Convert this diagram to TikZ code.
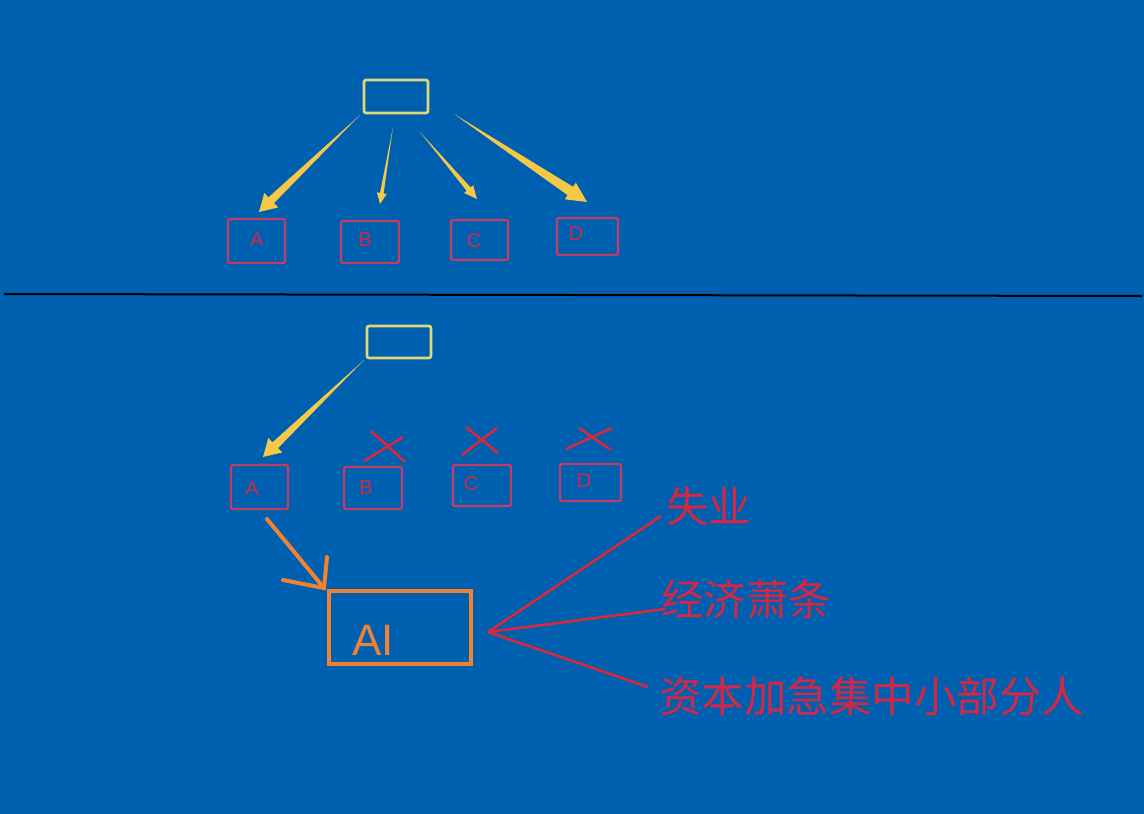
\documentclass[tikz,border=0pt]{standalone}
\usepackage{fontspec}
\setmainfont{Liberation Sans}
\newfontfamily\cjk{Noto Sans CJK SC}
\usetikzlibrary{calc}
\definecolor{bgblue}{RGB}{0,96,176}
\definecolor{ybox}{RGB}{225,215,120}
\definecolor{yarrow}{RGB}{245,200,70}
\definecolor{rbox}{RGB}{195,60,100}
\definecolor{rtext}{RGB}{210,40,70}
\definecolor{rline}{RGB}{215,40,60}
\definecolor{oran}{RGB}{240,130,50}
\newcommand\taperarrow[5]{%
  \coordinate (tah) at ($(#2)!#5!(#1)$);
  \fill[yarrow] (#1) -- ($(tah)!#3!90:(#2)$) -- ($(tah)!#4!90:(#2)$) -- (#2)
    -- ($(tah)!#4!-90:(#2)$) -- ($(tah)!#3!-90:(#2)$) -- cycle;}
\tikzset{
  topbox/.style={draw=ybox, line width=2.6pt, rounded corners=2pt, inner sep=0pt},
  redbox/.style={draw=rbox, line width=2.3pt, rounded corners=1.5pt, inner sep=0pt},
  letter/.style={text=rtext, font=\fontsize{20}{20}\selectfont, inner sep=0pt},
  cross/.style={draw=rline, line width=2.6pt},
  redline/.style={draw=rline, line width=2.6pt},
  cjktext/.style={text=rtext, font=\cjk\fontsize{42.5}{42.5}\selectfont, inner sep=0pt, anchor=west},
  orangeline/.style={draw=oran, line width=4pt, line cap=round},
}
\begin{document}
\begin{tikzpicture}[x=1pt,y=-1pt]
\useasboundingbox (0,0) rectangle (1144,814);
\fill[bgblue] (0,0) rectangle (1144,814);
% ---------- top part ----------
\node[topbox, minimum width=64pt, minimum height=33pt] (T1) at (396,96.5) {};
\node[redbox, minimum width=57pt, minimum height=44pt] (A1) at (256.5,241) {};
\node[redbox, minimum width=58pt, minimum height=42pt] (B1) at (370,242) {};
\node[redbox, minimum width=57pt, minimum height=40pt] (C1) at (479.5,240) {};
\node[redbox, minimum width=61pt, minimum height=37pt] (D1) at (587.5,236.5) {};
\node[letter] (lA1) at (257,240) {A};
\node[letter] (lB1) at (365,240) {B};
\node[letter] (lC1) at (474,241) {C};
\node[letter] (lD1) at (576,234) {D};
\coordinate (sA1) at (360,115); \coordinate (eA1) at (259,212);
\coordinate (sB1) at (393,127); \coordinate (eB1) at (380,204);
\coordinate (sC1) at (420,132); \coordinate (eC1) at (477,199);
\coordinate (sD1) at (454,114); \coordinate (eD1) at (587,202);
\taperarrow{sA1}{eA1}{4pt}{10pt}{17pt}
\taperarrow{sB1}{eB1}{1.8pt}{5pt}{11pt}
\taperarrow{sC1}{eC1}{2.6pt}{6pt}{13pt}
\taperarrow{sD1}{eD1}{5pt}{10pt}{20pt}
% separator
\coordinate (sepL) at (4,294); \coordinate (sepR) at (1142,296);
\draw[black, line width=2pt] (sepL) -- (sepR);
% ---------- bottom part ----------
\node[topbox, minimum width=64pt, minimum height=32pt] (T2) at (399,342) {};
\node[redbox, minimum width=57pt, minimum height=44pt] (A2) at (259.5,487) {};
\node[redbox, minimum width=58pt, minimum height=42pt] (B2) at (373,488) {};
\node[redbox, minimum width=58pt, minimum height=41pt] (C2) at (482,485.5) {};
\node[redbox, minimum width=61pt, minimum height=37pt] (D2) at (590.5,482.5) {};
\node[letter] (lA2) at (252,489) {A};
\node[letter] (lB2) at (366,488) {B};
\node[letter] (lC2) at (471,484) {C};
\node[letter] (lD2) at (584,481) {D};
\coordinate (sA2) at (364,360); \coordinate (eA2) at (263,457);
\taperarrow{sA2}{eA2}{4pt}{10pt}{17pt}
% crosses
\coordinate (xb1) at (364,461); \coordinate (xb2) at (403,437);
\coordinate (xb3) at (371,431); \coordinate (xb4) at (405,462);
\draw[cross] (xb1) -- (xb2); \draw[cross] (xb3) -- (xb4);
\coordinate (xc1) at (462,455); \coordinate (xc2) at (497,428);
\coordinate (xc3) at (466,427); \coordinate (xc4) at (498,453);
\draw[cross] (xc1) -- (xc2); \draw[cross] (xc3) -- (xc4);
\coordinate (xd1) at (566,449); \coordinate (xd2) at (612,428);
\coordinate (xd3) at (579,428); \coordinate (xd4) at (611,450);
\draw[cross] (xd1) -- (xd2); \draw[cross] (xd3) -- (xd4);
% AI box
\node[draw=oran, line width=4pt, minimum width=142pt, minimum height=73pt, inner sep=0pt] (AI) at (399.5,627.5) {};
\node[text=oran, font=\fontsize{44}{44}\selectfont, inner sep=0pt, anchor=base west] (AIt) at (352,655) {AI};
% orange arrow
\coordinate (oS) at (267,519); \coordinate (oT) at (324,588);
\coordinate (oL) at (327,557); \coordinate (oR) at (283,580);
\draw[orangeline] (oS) -- (oT);
\draw[orangeline] (oL) -- (oT) -- (oR);
% red lines and texts
\coordinate (rO) at (488,632);
\coordinate (r1) at (661,516);
\coordinate (r2) at (665,609);
\coordinate (r3) at (648,687);
\draw[redline] (rO) -- (r1);
\draw[redline] (rO) -- (r2);
\draw[redline] (rO) -- (r3);
\node[cjktext] (t1) at (666,506) {失业};
\node[cjktext] (t2) at (661,599) {经济萧条};
\node[cjktext] (t3) at (659,696) {资本加急集中小部分人};
\end{tikzpicture}
\end{document}
